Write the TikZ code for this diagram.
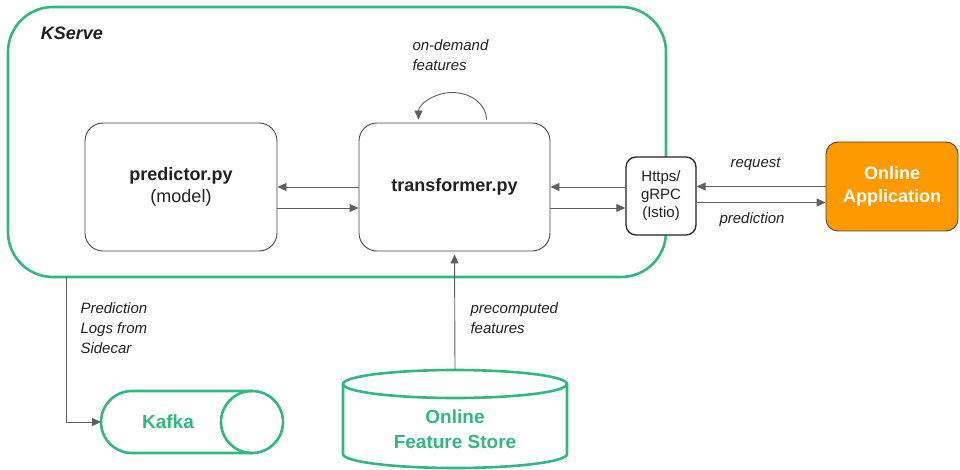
\documentclass[tikz,border=0pt]{standalone}
\usepackage{fontspec}
\setmainfont{Liberation Sans}
\usepackage{tikz}
\usetikzlibrary{arrows.meta,positioning}
\definecolor{ksgreen}{RGB}{51,183,128}
\definecolor{apporange}{RGB}{255,153,0}
\definecolor{linegray}{RGB}{95,95,95}
\definecolor{boxgray}{RGB}{70,70,70}
\definecolor{txt}{RGB}{33,33,33}
\begin{document}
\begin{tikzpicture}[x=1pt,y=-1pt,
    box/.style={draw=boxgray,fill=white,line width=0.9pt,rounded corners=18pt,text=txt,align=center},
    arr/.style={draw=linegray,line width=0.9pt,-{Triangle[length=9pt,width=8pt]}},
    bigtext/.style={font=\fontsize{18}{22}\selectfont},
    note/.style={font=\fontsize{15}{20}\selectfont\itshape,text=txt,align=left,anchor=west},
    greenline/.style={draw=ksgreen,line width=2.6pt},
    greentext/.style={text=ksgreen,align=center,font=\fontsize{19}{25}\selectfont\bfseries}]
    \useasboundingbox (0,0) rectangle (960,470);
    %\draw[very thin,color=gray] (0,0) grid[step=50] (960,470);
    \node[greenline,rounded corners=45pt,minimum width=658pt,minimum height=270pt] (kserve) at (337,142) {};
    \node[text=txt,font=\fontsize{18}{22}\selectfont\bfseries\itshape] (kservelabel) at (72,33) {KServe};
    \node[box,bigtext,minimum width=192pt,minimum height=128pt] (predictor) at (181,187) {\textbf{predictor.py}\\(model)};
    \node[box,bigtext,minimum width=191pt,minimum height=128pt] (transformer) at (454.5,187) {\textbf{transformer.py}};
    \node[box,line width=1.3pt,draw=txt,rounded corners=10pt,font=\fontsize{15}{18}\selectfont,minimum width=70pt,minimum height=78pt] (grpc) at (661,196) {Https/\\gRPC\\(Istio)};
    \node[draw=boxgray,fill=apporange,line width=0.9pt,rounded corners=12pt,text=white,align=center,
        font=\fontsize{18}{23}\selectfont\bfseries,minimum width=132pt,minimum height=89pt] (app) at (892,186.5) {Online\\Application};
    % model calls
    \draw[arr] (transformer.west) -- (predictor.east);
    \draw[arr] ([yshift=-21pt]predictor.east) -- ([yshift=-21pt]transformer.west);
    \draw[arr] (grpc.west |- transformer.east) -- (transformer.east);
    \draw[arr] ([yshift=-21pt]transformer.east) -- ([yshift=-21pt]transformer.east -| grpc.west);
    \draw[arr] (app.west) -- (app.west -| grpc.east);
    \draw[arr] ([yshift=-16pt]app.west -| grpc.east) -- ([yshift=-16pt]app.west);
    \node[note] (request) at (727,164) {request};
    \node[note] (prediction) at (716,220) {prediction};
    % on-demand features
    \draw[arr] ([xshift=32pt,yshift=3pt]transformer.north) arc[start angle=0,end angle=180,x radius=34pt,y radius=27pt];
    \node[note] (ondemand) at (409,55) {on-demand\\features};
    % feature store
    \draw[greenline] (343,384) -- (343,454) arc[start angle=180,end angle=360,x radius=112pt,y radius=14pt] -- (567,384);
    \draw[greenline] (455,384) ellipse[x radius=112pt,y radius=14pt];
    \node[greentext] (store) at (455,429) {Online\\Feature Store};
    \coordinate (storetop) at (455,370);
    \draw[arr,shorten >=3pt] (storetop) -- (transformer.south);
    \node[note] (precomputed) at (467,318) {precomputed\\features};
    % kafka
    \draw[greenline] (252,391) -- (132,391) arc[start angle=90,end angle=270,x radius=31pt,y radius=31pt] -- (252,453);
    \draw[greenline] (252,422) ellipse[x radius=31pt,y radius=31pt];
    \node[greentext] (kafka) at (168,422) {Kafka};
    \coordinate (logs) at (66,277);
    \coordinate (kafkaleft) at (101,422);
    \draw[arr] (logs) |- (kafkaleft);
    \node[note] (sidecar) at (77,328) {Prediction\\Logs from\\Sidecar};
\end{tikzpicture}
\end{document}
